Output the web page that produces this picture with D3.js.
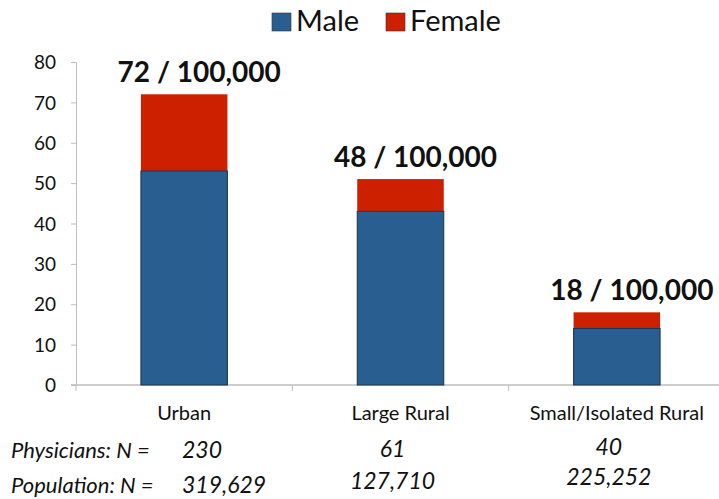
<!DOCTYPE html>
<html>
<head>
<meta charset="utf-8">
<script src="https://cdn.jsdelivr.net/npm/d3@7"></script>
<style>
  body { margin: 0; background: #fff; }
  text { font-family: Lato, "Open Sans", sans-serif; fill: #111; }
</style>
</head>
<body>
<svg id="chart"></svg>
<script>
// chart values
let categories = ["Urban", "Large Rural", "Small/Isolated Rural"];
let maleValues = [53, 43, 14];
let femaleValues = [19, 8, 4];
let rateLabels = ["72 / 100,000", "48 / 100,000", "18 / 100,000"];
let physicians = ["230", "61", "40"];
let population = ["319,629", "127,710", "225,252"];
let yTicks = [0, 10, 20, 30, 40, 50, 60, 70, 80];
let seriesNames = ["Male", "Female"];
let seriesColors = ["#285e90", "#cd2000"];

function getConfig() {
  let width = 719;
  let height = 499;
  let margin = { top: 62, bottom: 114, left: 76, right: -6 };
  let bodyHeight = height - margin.top - margin.bottom;
  let bodyWidth = width - margin.left - margin.right;
  let container = d3.select("#chart")
    .attr("width", width)
    .attr("height", height);
  return { width, height, margin, bodyHeight, bodyWidth, container };
}

function getScales(config) {
  let { bodyWidth, bodyHeight } = config;
  let xScale = d3.scaleBand()
    .domain(categories)
    .range([0, bodyWidth])
    .paddingInner(0.6)
    .paddingOuter(0.3);
  let yScale = d3.scaleLinear()
    .domain([0, 80])
    .range([bodyHeight, 0]);
  return { xScale, yScale };
}

function drawAxes(scales, config) {
  let { margin, container, bodyHeight, bodyWidth } = config;
  let { xScale, yScale } = scales;

  let yAxis = container.append("g")
    .attr("transform", `translate(${margin.left},${margin.top})`)
    .call(d3.axisLeft(yScale).tickValues(yTicks).tickSize(5).tickPadding(15).tickSizeOuter(0));
  yAxis.selectAll("path, line").attr("stroke", "#bdbdbd");
  yAxis.selectAll("text").style("font-size", "19px").attr("fill", "#111").attr("dy", "0.35em");

  // x axis line with ticks on the band boundaries
  let xg = container.append("g")
    .attr("transform", `translate(${margin.left},${margin.top + bodyHeight})`);
  xg.append("line")
    .attr("x1", -5).attr("x2", bodyWidth)
    .attr("stroke", "#bdbdbd").attr("stroke-width", 1.5);
  let step = xScale.step();
  let bounds = categories.map((c, i) => xScale(c) - xScale.paddingInner() * step / 2)
  xg.selectAll(".tick")
    .data(bounds)
    .enter()
    .append("line")
    .attr("x1", d => d).attr("x2", d => d)
    .attr("y1", 0).attr("y2", 6)
    .attr("stroke", "#bdbdbd");

  xg.selectAll(".cat")
    .data(categories)
    .enter()
    .append("text")
    .attr("x", d => xScale(d) + xScale.bandwidth() / 2)
    .attr("y", 35)
    .attr("text-anchor", "middle")
    .style("font-size", "20px")
    .text(d => d);
}

function drawBars(scales, config) {
  let { margin, container } = config;
  let { xScale, yScale } = scales;
  let g = container.append("g")
    .attr("transform", `translate(${margin.left},${margin.top})`);

  let rows = categories.map((c, i) => ({ cat: c, male: maleValues[i], female: femaleValues[i], label: rateLabels[i] }));

  // female on top
  g.selectAll(".female")
    .data(rows)
    .enter()
    .append("rect")
    .attr("x", d => xScale(d.cat))
    .attr("y", d => yScale(d.male + d.female))
    .attr("width", xScale.bandwidth())
    .attr("height", d => yScale(d.male) - yScale(d.male + d.female))
    .style("fill", seriesColors[1]);

  g.selectAll(".male")
    .data(rows)
    .enter()
    .append("rect")
    .attr("x", d => xScale(d.cat))
    .attr("y", d => yScale(d.male))
    .attr("width", xScale.bandwidth())
    .attr("height", d => yScale(0) - yScale(d.male))
    .style("fill", seriesColors[0])
    .style("stroke", "#1c3550")
    .style("stroke-width", 1);

  g.selectAll(".rate")
    .data(rows)
    .enter()
    .append("text")
    .attr("x", d => xScale(d.cat) + xScale.bandwidth() / 2 + 15)
    .attr("y", d => yScale(d.male + d.female) - 12)
    .attr("text-anchor", "middle")
    .style("font-size", "28px")
    .style("font-weight", "bold")
    .text(d => d.label);
}

function drawLegend(config) {
  let { container } = config;
  let items = [
    { name: seriesNames[0], color: seriesColors[0], x: 272 },
    { name: seriesNames[1], color: seriesColors[1], x: 386 }
  ];
  let lg = container.append("g");
  let it = lg.selectAll("g").data(items).enter().append("g")
    .attr("transform", d => `translate(${d.x},13)`);
  it.append("rect")
    .attr("width", 19).attr("height", 18)
    .style("fill", d => d.color)
    .style("stroke", "#333").style("stroke-width", 0.6);
  it.append("text")
    .attr("x", 24).attr("y", 18)
    .style("font-size", "29px")
    .text(d => d.name);
}

function drawCounts(scales, config) {
  let { margin, container } = config;
  let { xScale } = scales;
  let cx = c => margin.left + xScale(c) + xScale.bandwidth() / 2;

  container.append("text")
    .attr("x", 11).attr("y", 458)
    .style("font-size", "22px").style("font-style", "italic")
    .text("Physicians: N =");
  container.append("text")
    .attr("x", 11).attr("y", 493)
    .style("font-size", "22px").style("font-style", "italic")
    .text("Population: N =");

  container.selectAll(".phys")
    .data(physicians)
    .enter()
    .append("text")
    .attr("x", (d, i) => i === 0 ? 182 : cx(categories[i]) - 8)
    .attr("y", (d, i) => 458 - i * 1.5)
    .attr("text-anchor", (d, i) => i === 0 ? "start" : "middle")
    .style("font-size", "23px").style("font-style", "italic")
    .text(d => d);

  container.selectAll(".pop")
    .data(population)
    .enter()
    .append("text")
    .attr("x", (d, i) => i === 0 ? 182 : cx(categories[i]) - 8)
    .attr("y", (d, i) => 493 - i * 4)
    .attr("text-anchor", (d, i) => i === 0 ? "start" : "middle")
    .style("font-size", "23px").style("font-style", "italic")
    .text(d => d);
}

let config = getConfig();
let scales = getScales(config);
drawAxes(scales, config);
drawBars(scales, config);
drawLegend(config);
drawCounts(scales, config);
</script>
</body>
</html>
